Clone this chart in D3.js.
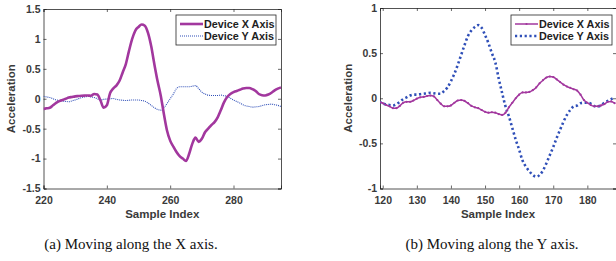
<!DOCTYPE html>
<html>
<head>
<meta charset="utf-8">
<script src="https://cdn.jsdelivr.net/npm/d3@7"></script>
<style>
  body { margin: 0; background: #fff; }
  svg text { font-family: "Liberation Sans", Arial, sans-serif; }
  .tick text { font-weight: bold; font-size: 10.5px; fill: #3a3a3a; }
  .caption { font-family: "Liberation Serif", "Times New Roman", serif !important; font-size: 15px; fill: #111; }
</style>
</head>
<body>
<div id="viz"></div>
<script>
const width = 616;
const height = 261;

// (a) moving along the X axis, samples 220..295
const idxA = d3.range(220, 296);
const xAxisA = [-0.17, -0.16, -0.15, -0.11, -0.07, -0.04, -0.02, 0.0, 0.02, 0.03,
  0.04, 0.045, 0.05, 0.053, 0.055, 0.05, 0.08, 0.07, -0.03, -0.15,
  -0.11, 0.09, 0.17, 0.22, 0.3, 0.44, 0.58, 0.8, 1.0, 1.14,
  1.2, 1.24, 1.22, 1.1, 0.88, 0.58, 0.3, 0.06, -0.25, -0.53,
  -0.7, -0.8, -0.89, -0.96, -1.0, -1.04, -0.92, -0.75, -0.65, -0.72,
  -0.67, -0.56, -0.5, -0.44, -0.39, -0.31, -0.19, -0.06, 0.03, 0.08,
  0.11, 0.13, 0.15, 0.17, 0.18, 0.18, 0.16, 0.13, 0.08, 0.06,
  0.055, 0.07, 0.1, 0.14, 0.17, 0.19];
const yAxisA = [0.04, 0.03, 0.02, 0.0, -0.02, -0.03, -0.04, -0.045, -0.05, -0.035,
  -0.02, 0.0, 0.02, 0.03, 0.04, 0.03, 0.02, 0.0, -0.02, -0.01,
  -0.005, 0.0, 0.005, -0.01, -0.02, -0.025, -0.03, -0.025, -0.02, -0.02,
  -0.02, -0.03, -0.04, -0.07, -0.11, -0.15, -0.18, -0.19, -0.15, -0.08,
  0.0, 0.08, 0.17, 0.2, 0.2, 0.2, 0.2, 0.21, 0.22, 0.17,
  0.11, 0.08, 0.06, 0.055, 0.055, 0.055, 0.06, 0.05, 0.04, 0.01,
  -0.02, -0.045, -0.07, -0.1, -0.12, -0.13, -0.14, -0.135, -0.13, -0.115,
  -0.1, -0.095, -0.09, -0.1, -0.11, -0.13];

// (b) moving along the Y axis, samples 119..188
const idxB = d3.range(119, 189);
const xAxisB = [-0.04, -0.055, -0.075, -0.09, -0.11, -0.11, -0.085, -0.05, -0.04, -0.04,
  -0.025, -0.005, 0.01, 0.015, 0.025, 0.03, 0.02, -0.02, -0.06, -0.09,
  -0.09, -0.08, -0.05, -0.025, -0.02, -0.03, -0.055, -0.085, -0.1, -0.11,
  -0.13, -0.15, -0.16, -0.155, -0.16, -0.175, -0.185, -0.16, -0.1, -0.05,
  0.0, 0.04, 0.065, 0.065, 0.07, 0.09, 0.12, 0.165, 0.2, 0.23,
  0.24, 0.235, 0.21, 0.18, 0.15, 0.13, 0.115, 0.1, 0.085, 0.04,
  -0.02, -0.05, -0.075, -0.09, -0.09, -0.08, -0.065, -0.04, -0.035, -0.055];
const yAxisB = [-0.04, -0.055, -0.07, -0.075, -0.08, -0.065, -0.04, -0.01, 0.01, 0.03,
  0.04, 0.04, 0.045, 0.05, 0.055, 0.06, 0.055, 0.05, 0.05, 0.08,
  0.12, 0.19, 0.27, 0.37, 0.48, 0.59, 0.69, 0.75, 0.79, 0.81,
  0.78, 0.7, 0.61, 0.5, 0.4, 0.22, 0.06, -0.09, -0.2, -0.33,
  -0.46, -0.57, -0.69, -0.76, -0.81, -0.85, -0.87, -0.85, -0.8, -0.72,
  -0.63, -0.54, -0.44, -0.35, -0.26, -0.185, -0.13, -0.09, -0.08, -0.055,
  -0.05, -0.05, -0.06, -0.085, -0.09, -0.08, -0.05, -0.03, -0.01, 0.01];

const legendLabels = ['Device X Axis', 'Device Y Axis'];
const purple = '#a2379e';
const blue = '#2f4fb8';

const svg = d3.select('#viz')
  .append('svg')
    .attr('width', width)
    .attr('height', height)
    .attr('viewBox', [0, 0, width, height]);

const panels = [
  {
    box: {left: 43.5, right: 281, top: 9, bottom: 188.5},
    xDomain: [220, 295], xTicks: [220, 240, 260, 280],
    yDomain: [-1.5, 1.5], yTicks: [-1.5, -1, -0.5, 0, 0.5, 1, 1.5],
    idx: idxA, xs: xAxisA, ys: yAxisA,
    xStyle: {width: 2.6, markers: false},
    yStyle: {width: 1.1, dash: '1,1'},
    legend: {x: 176, y: 15, w: 100, h: 30},
    caption: '(a) Moving along the X axis.', captionX: 131
  },
  {
    box: {left: 380, right: 616, top: 8, bottom: 188.5},
    xDomain: [119.2, 188.4], xTicks: [120, 130, 140, 150, 160, 170, 180],
    yDomain: [-1, 1], yTicks: [-1, -0.5, 0, 0.5, 1],
    idx: idxB, xs: xAxisB, ys: yAxisB,
    xStyle: {width: 1.5, markers: true},
    yStyle: {width: 2.6, dash: '2.2,2.6'},
    legend: {x: 511, y: 15, w: 101, h: 30},
    caption: '(b) Moving along the Y axis.', captionX: 492
  }
];

panels.forEach(p => {
  const b = p.box;
  const x = d3.scaleLinear().domain(p.xDomain).range([b.left, b.right]);
  const y = d3.scaleLinear().domain(p.yDomain).range([b.bottom, b.top]);
  const g = svg.append('g');
  const fmt = d => String(d);

  // axes with inward ticks, MATLAB-ish box
  g.append('g')
    .attr('transform', `translate(0,${b.bottom})`)
    .call(d3.axisBottom(x).tickValues(p.xTicks).tickSize(-3).tickPadding(6).tickFormat(fmt))
    .call(a => a.selectAll('.tick text').attr('dy', '0.9em'));
  g.append('g')
    .attr('transform', `translate(0,${b.top})`)
    .call(d3.axisTop(x).tickValues(p.xTicks).tickSize(-3).tickFormat(''));
  g.append('g')
    .attr('transform', `translate(${b.left},0)`)
    .call(d3.axisLeft(y).tickValues(p.yTicks).tickSize(-3).tickPadding(3).tickFormat(fmt));
  g.append('g')
    .attr('transform', `translate(${b.right},0)`)
    .call(d3.axisRight(y).tickValues(p.yTicks).tickSize(-3).tickFormat(''));
  g.selectAll('.domain').attr('stroke', '#262626').attr('stroke-width', 0.8);
  g.selectAll('.tick line').attr('stroke', '#262626').attr('stroke-width', 0.7);
  g.selectAll('.tick text').attr('font-family', '"Liberation Sans", Arial, sans-serif');

  const clipId = 'clip' + Math.round(b.left);
  svg.append('clipPath').attr('id', clipId)
    .append('rect').attr('x', b.left).attr('y', b.top)
    .attr('width', b.right - b.left).attr('height', b.bottom - b.top);

  const line = vals => d3.line()
    .x((d, i) => x(p.idx[i]))
    .y(d => y(d))
    .curve(d3.curveMonotoneX)(vals);

  const plot = g.append('g').attr('clip-path', `url(#${clipId})`);
  plot.append('path')
    .attr('d', line(p.ys))
    .attr('fill', 'none')
    .attr('stroke', blue)
    .attr('stroke-width', p.yStyle.width)
    .attr('stroke-dasharray', p.yStyle.dash);
  plot.append('path')
    .attr('d', line(p.xs))
    .attr('fill', 'none')
    .attr('stroke', purple)
    .attr('stroke-width', p.xStyle.width)
    .attr('stroke-linejoin', 'round');
  if (p.xStyle.markers) {
    plot.selectAll('.mk')
      .data(p.xs)
      .join('circle')
      .attr('cx', (d, i) => x(p.idx[i]))
      .attr('cy', d => y(d))
      .attr('r', 1.1)
      .attr('fill', purple);
  }

  // axis labels
  g.append('text')
    .attr('x', (b.left + b.right) / 2)
    .attr('y', 218)
    .attr('text-anchor', 'middle')
    .attr('font-size', 11.5)
    .attr('font-weight', 'bold')
    .attr('fill', '#3a3a3a')
    .text('Sample Index');
  g.append('text')
    .attr('transform', `translate(${b.left - 28.5},${(b.top + b.bottom) / 2}) rotate(-90)`)
    .attr('text-anchor', 'middle')
    .attr('font-size', 11.5)
    .attr('font-weight', 'bold')
    .attr('fill', '#3a3a3a')
    .text('Acceleration');

  // legend
  const L = p.legend;
  const lg = g.append('g').attr('transform', `translate(${L.x},${L.y})`);
  lg.append('rect')
    .attr('width', L.w).attr('height', L.h)
    .attr('fill', '#fff').attr('stroke', '#262626').attr('stroke-width', 0.8);
  legendLabels.forEach((lab, i) => {
    const cy = 9 + i * 12;
    const isX = i === 0;
    lg.append('line')
      .attr('x1', 4).attr('x2', 27).attr('y1', cy).attr('y2', cy)
      .attr('stroke', isX ? purple : blue)
      .attr('stroke-width', isX ? p.xStyle.width : p.yStyle.width)
      .attr('stroke-dasharray', isX ? null : p.yStyle.dash);
    if (isX && p.xStyle.markers) {
      lg.append('circle').attr('cx', 15.5).attr('cy', cy).attr('r', 1.1).attr('fill', purple);
    }
    lg.append('text')
      .attr('x', 28).attr('y', cy + 3.8)
      .attr('font-size', 10.8)
      .attr('font-weight', 'bold')
      .attr('fill', '#1e1e1e')
      .text(lab);
  });

  svg.append('text')
    .attr('class', 'caption')
    .attr('x', p.captionX)
    .attr('y', 249)
    .attr('text-anchor', 'middle')
    .text(p.caption);
});
</script>
</body>
</html>
